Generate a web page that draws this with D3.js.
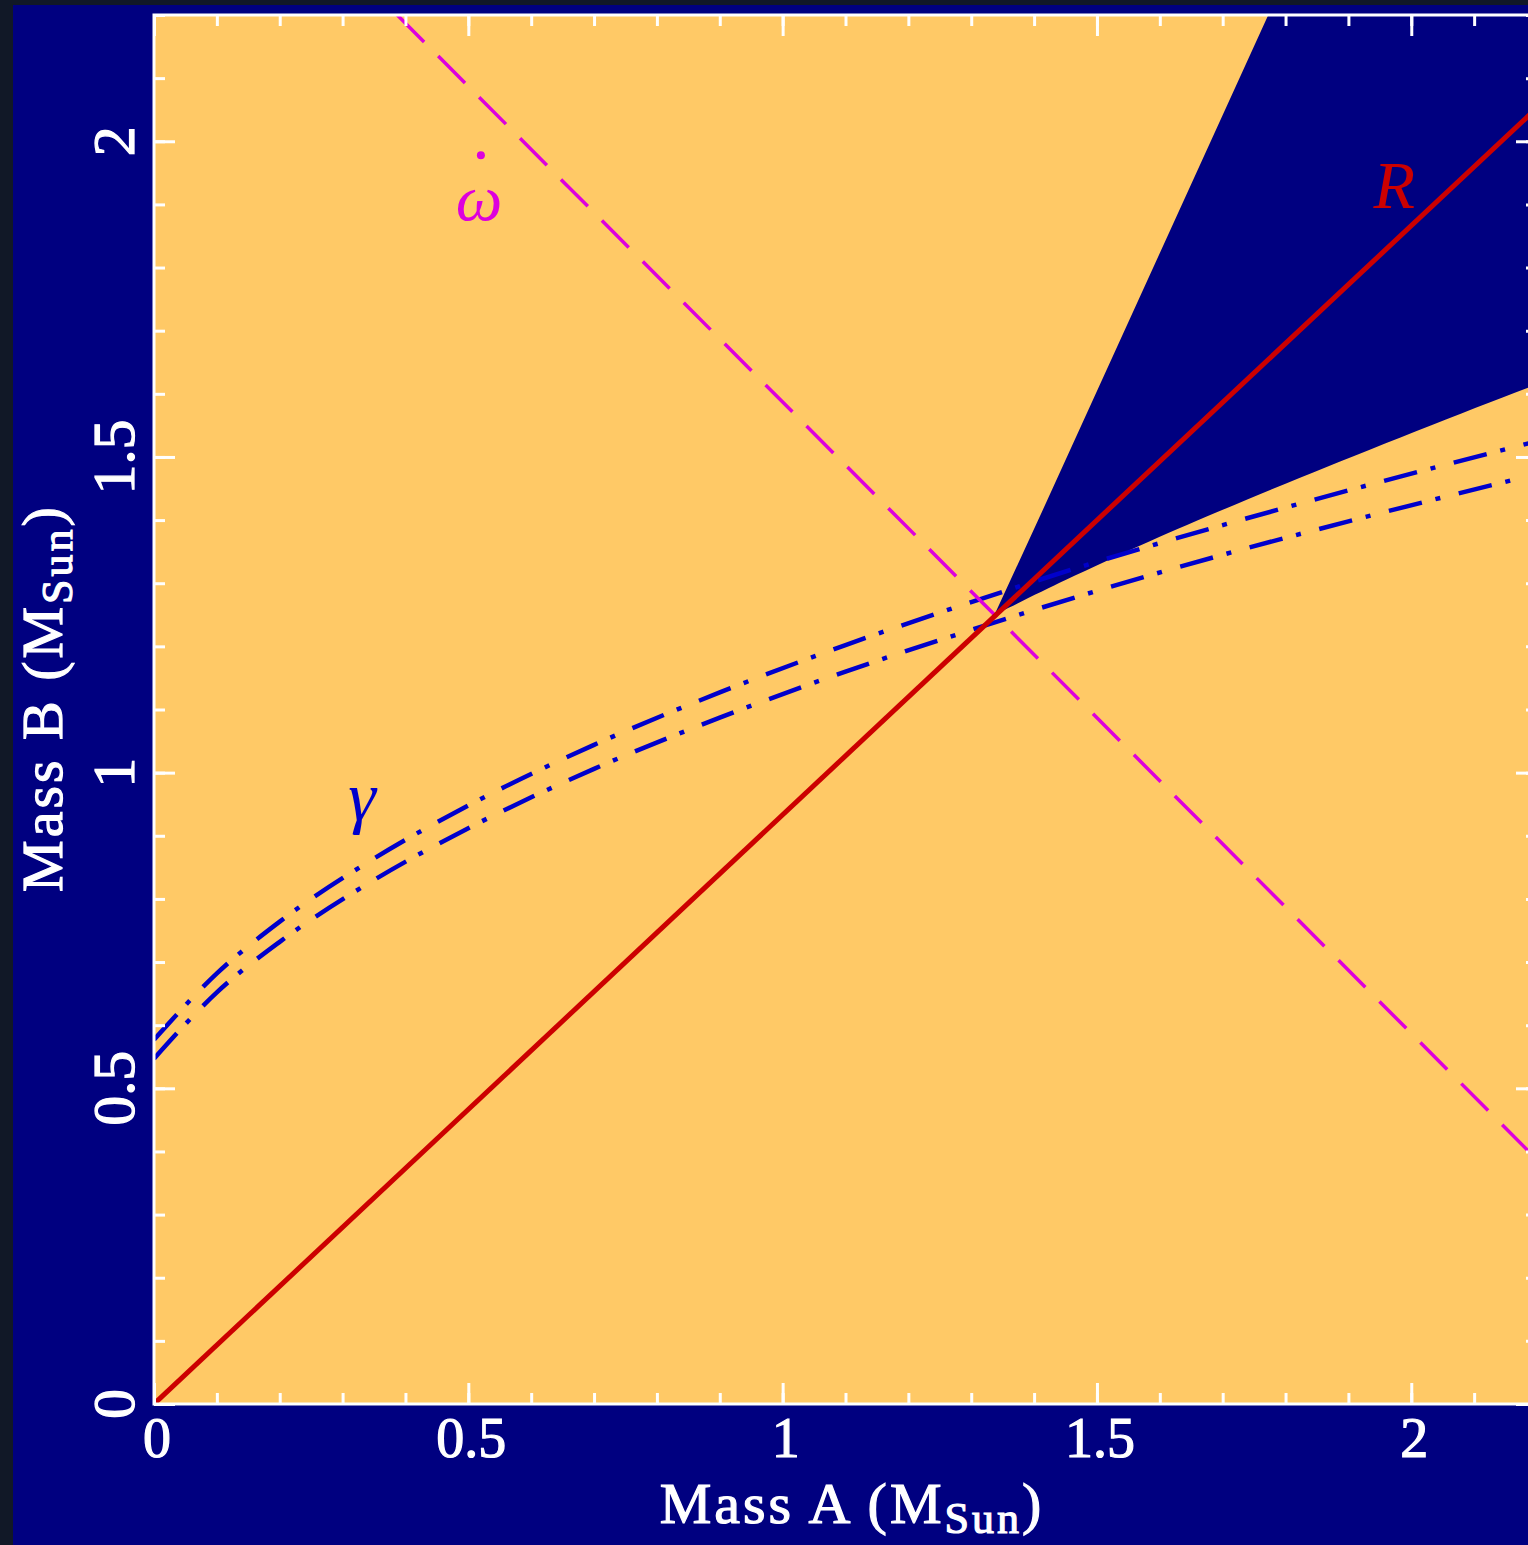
<!DOCTYPE html>
<html>
<head>
    <meta charset="utf-8">
    <title>Mass-mass diagram</title>
    <style>
        body { margin: 0; background: #111827; }
        svg { display: block; }
        text { font-family: "Liberation Serif", "Times New Roman", serif; }
    </style>
</head>
<body>
<div id='plot'></div>
<script src="https://cdn.jsdelivr.net/npm/d3@7"></script>
<script>

    // values, in solar masses
    let massTicks = [0, 0.5, 1, 1.5, 2];
    let massTickLabels = ['0', '0.5', '1', '1.5', '2'];

    // R : mass ratio line
    let ratioLine = [[0, 0], [2.2, 2.053]];
    // omega-dot : total mass line
    let omegaLine = [[0.387, 2.2], [2.2, 0.387]];

    // gamma : two dash-dot curves (upper / lower)
    let gammaUpper = [[0, 0.577], [0.1, 0.682], [0.2, 0.764], [0.35, 0.864], [0.5, 0.948], [0.7, 1.044],
        [0.9, 1.127], [1.1, 1.202], [1.3, 1.270], [1.5, 1.334], [1.7, 1.392], [1.9, 1.447], [2.2, 1.525]];
    let gammaLower = [[0, 0.547], [0.1, 0.652], [0.2, 0.732], [0.35, 0.830], [0.5, 0.912], [0.7, 1.006],
        [0.9, 1.087], [1.1, 1.160], [1.3, 1.226], [1.5, 1.288], [1.7, 1.345], [1.9, 1.398], [2.2, 1.473]];

    // allowed (dark) wedge
    let wedgeLeft = [[1.337, 1.25], [1.4065, 1.40], [1.7725, 2.2], [1.79, 2.25]];
    let wedgeCorner = [[2.3, 2.25], [2.3, 1.65]];
    let wedgeLower = [[2.3, 1.65], [2.2, 1.615], [1.823, 1.467], [1.585, 1.367], [1.45, 1.305], [1.337, 1.25]];

    let svgWidth = 1528;
    let svgHeight = 1545;

    let x = d3.scaleLinear().domain([0, 2.2]).range([154, 1537]);
    let y = d3.scaleLinear().domain([0, 2.2]).range([1404, 15]);

    let colors = {bg: '#000080', fill: '#ffc966', red: '#cc0000', magenta: '#dd00dd', blue: '#0000cc'};

    let svg = d3.select('#plot')
        .append('svg')
        .attr('width', svgWidth)
        .attr('height', svgHeight);

    svg.append('rect')
        .attr('x', 13).attr('y', 5)
        .attr('width', svgWidth - 13).attr('height', svgHeight - 5)
        .attr('fill', colors.bg);

    svg.append('clipPath').attr('id', 'clip')
        .append('rect')
        .attr('x', x(0)).attr('y', y(2.2))
        .attr('width', x(2.2) - x(0)).attr('height', y(0) - y(2.2));

    let plot = svg.append('g').attr('clip-path', 'url(#clip)');

    plot.append('rect')
        .attr('x', x(0)).attr('y', y(2.2))
        .attr('width', x(2.2) - x(0)).attr('height', y(0) - y(2.2))
        .attr('fill', colors.fill);

    let line = d3.line().x(d => x(d[0])).y(d => y(d[1]));
    let smooth = d3.line().x(d => x(d[0])).y(d => y(d[1])).curve(d3.curveMonotoneX);
    let round = d3.line().x(d => x(d[0])).y(d => y(d[1])).curve(d3.curveCatmullRom);

    plot.append('path')
        .attr('d', line(wedgeLeft.concat(wedgeCorner)) + round(wedgeLower).replace(/^M/, 'L') + 'Z')
        .attr('fill', colors.bg);

    [gammaUpper, gammaLower].forEach(function (c) {
        plot.append('path')
            .datum(c)
            .attr('d', smooth)
            .attr('fill', 'none')
            .attr('stroke', colors.blue)
            .attr('stroke-width', 4.5)
            .attr('stroke-dasharray', '34,14,5,19');
    });

    plot.append('path')
        .datum(omegaLine)
        .attr('d', line)
        .attr('fill', 'none')
        .attr('stroke', colors.magenta)
        .attr('stroke-width', 3.5)
        .attr('stroke-dasharray', '38,20');

    plot.append('path')
        .datum(ratioLine)
        .attr('d', line)
        .attr('fill', 'none')
        .attr('stroke', colors.red)
        .attr('stroke-width', 5);

    // curve labels
    plot.append('text')
        .attr('x', x(1.94)).attr('y', y(1.895))
        .attr('fill', colors.red)
        .attr('font-size', 68).attr('font-style', 'italic')
        .text('R');
    plot.append('text')
        .attr('x', x(0.517)).attr('y', y(1.876))
        .attr('text-anchor', 'middle')
        .attr('fill', colors.magenta)
        .attr('font-size', 66).attr('font-style', 'italic')
        .text('ω');
    plot.append('circle')
        .attr('cx', x(0.52)).attr('cy', y(1.978))
        .attr('r', 4)
        .attr('fill', colors.magenta);
    plot.append('text')
        .attr('x', x(0.331)).attr('y', y(0.925))
        .attr('text-anchor', 'middle')
        .attr('fill', colors.blue)
        .attr('font-size', 70).attr('font-style', 'italic')
        .text('γ');

    // frame
    svg.append('rect')
        .attr('x', x(0)).attr('y', y(2.2))
        .attr('width', x(2.2) - x(0)).attr('height', y(0) - y(2.2))
        .attr('fill', 'none')
        .attr('stroke', 'white')
        .attr('stroke-width', 3);

    // inward ticks on all four sides
    let minorTicks = d3.range(1, 23).map(i => i / 10);
    function addTicks(axisFn, scale, values, size, transform) {
        svg.append('g')
            .attr('transform', transform)
            .call(axisFn(scale).tickValues(values).tickSize(-size).tickFormat(''))
            .call(g => g.select('.domain').remove())
            .call(g => g.selectAll('line').attr('stroke', 'white').attr('stroke-width', 3));
    }
    [[minorTicks, 11], [massTicks, 21]].forEach(function (t) {
        addTicks(d3.axisBottom, x, t[0], t[1], 'translate(0,' + y(0) + ')');
        addTicks(d3.axisTop, x, t[0], t[1], 'translate(0,' + y(2.2) + ')');
        addTicks(d3.axisLeft, y, t[0], t[1], 'translate(' + x(0) + ',0)');
        addTicks(d3.axisRight, y, t[0], t[1], 'translate(' + x(2.2) + ',0)');
    });

    // tick labels
    svg.selectAll('.xlab')
        .data(massTicks)
        .enter()
        .append('text')
        .attr('class', 'xlab')
        .attr('x', d => x(d) + 3)
        .attr('y', 1457)
        .attr('text-anchor', 'middle')
        .attr('fill', 'white')
        .attr('stroke', 'white').attr('stroke-width', 1.2)
        .attr('font-size', 56)
        .text((d, i) => massTickLabels[i]);

    svg.selectAll('.ylab')
        .data(massTicks)
        .enter()
        .append('text')
        .attr('class', 'ylab')
        .attr('transform', d => 'translate(134,' + y(d) + ') rotate(-90)')
        .attr('text-anchor', 'middle')
        .attr('fill', 'white')
        .attr('stroke', 'white').attr('stroke-width', 1.2)
        .attr('font-size', 60)
        .text((d, i) => massTickLabels[i]);

    // axis titles
    function axisTitle(sel, name) {
        sel.attr('text-anchor', 'middle')
            .attr('fill', 'white')
            .attr('stroke', 'white').attr('stroke-width', 1.2)
            .attr('font-size', 58)
            .attr('letter-spacing', 3);
        sel.append('tspan').text(name + ' (M');
        sel.append('tspan').attr('dy', 10).attr('font-size', 44).text('Sun');
        sel.append('tspan').attr('dy', -10).text(')');
    }
    svg.append('text')
        .attr('x', 852).attr('y', 1523)
        .call(axisTitle, 'Mass A');
    svg.append('text')
        .attr('transform', 'translate(62,698) rotate(-90)')
        .call(axisTitle, 'Mass B');

</script>
</body>
</html>
